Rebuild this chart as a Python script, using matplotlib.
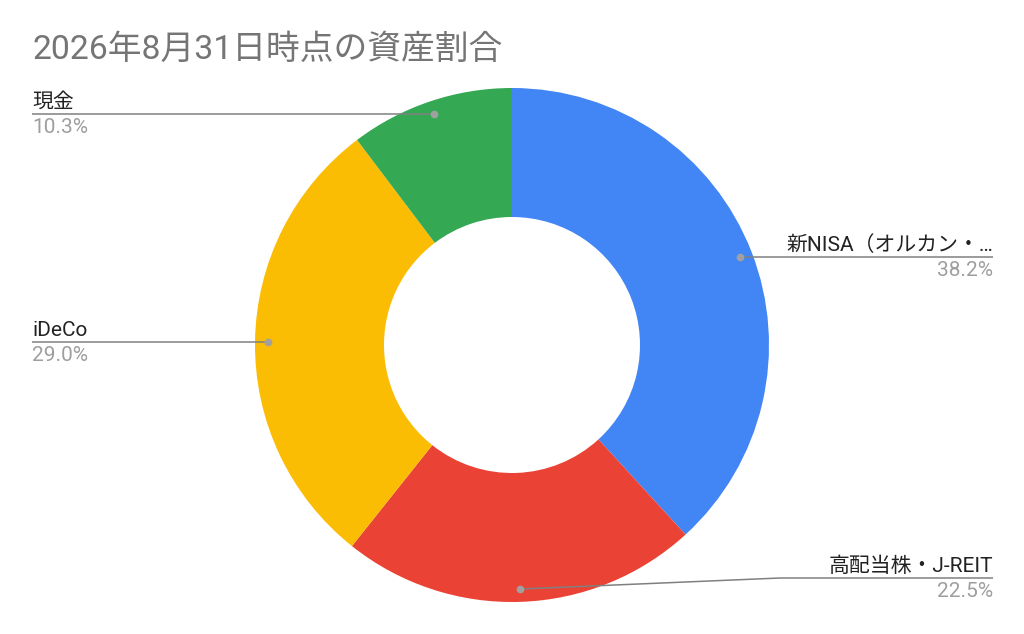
import numpy as np
import matplotlib
matplotlib.use('Agg')
import matplotlib.pyplot as plt

plt.rcParams['font.family'] = ['Roboto', 'Noto Sans CJK JP', 'DejaVu Sans']

title = '2026年8月31日時点の資産割合'
categories = ['新NISA（オルカン・…', '高配当株・J-REIT', 'iDeCo', '現金']
shares = [38.2, 22.5, 29.0, 10.3]
colors = ['#4285F4', '#EA4335', '#FBBC04', '#34A853']

W, H = 1024, 634
fig = plt.figure(figsize=(W / 100, H / 100), dpi=100)
ax = fig.add_axes([0, 0, 1, 1])

# donut geometry in pixel units (y up)
cx, cy = 512, H - 345
r_out, r_in = 257, 128
wedges, _ = ax.pie(shares, colors=colors, startangle=90, counterclock=False,
                   radius=r_out, center=(cx, cy),
                   wedgeprops=dict(width=r_out - r_in, linewidth=0))
ax.set_xlim(0, W)
ax.set_ylim(0, H)
ax.set_aspect('equal')
ax.axis('off')

total = sum(shares)
left_x, right_x = 32, 993
min_line_y = H - 578   # labels are kept above the bottom edge
bend_x = 780

for w, name, val in zip(wedges, categories, shares):
    ang = np.deg2rad((w.theta1 + w.theta2) / 2)
    dx, dy = np.cos(ang), np.sin(ang)
    px, py = cx + 0.95 * r_out * dx, cy + 0.95 * r_out * dy
    line_y = max(py, min_line_y)
    right = dx >= 0
    end_x = right_x if right else left_x
    if line_y != py:
        xs = [px, bend_x if right else W - bend_x, end_x]
        ys = [py, line_y, line_y]
    else:
        xs, ys = [px, end_x], [py, py]
    ax.plot(xs, ys, color='#808080', lw=1.1, solid_capstyle='butt', zorder=3)
    ax.plot([px], [py], 'o', color='#a0a0a0', ms=4.5, zorder=4)
    ha = 'right' if right else 'left'
    ax.text(end_x, line_y + 6, name, ha=ha, va='baseline', fontsize=15, color='#222222')
    ax.text(end_x, line_y - 19, f'{val / total * 100:.1f}%', ha=ha, va='baseline',
            fontsize=15, color='#9e9e9e')

fig.text(32 / W, 1 - 59 / H, title, ha='left', va='baseline', fontsize=24.3, color='#757575')

fig.savefig('out.png', dpi=100)
